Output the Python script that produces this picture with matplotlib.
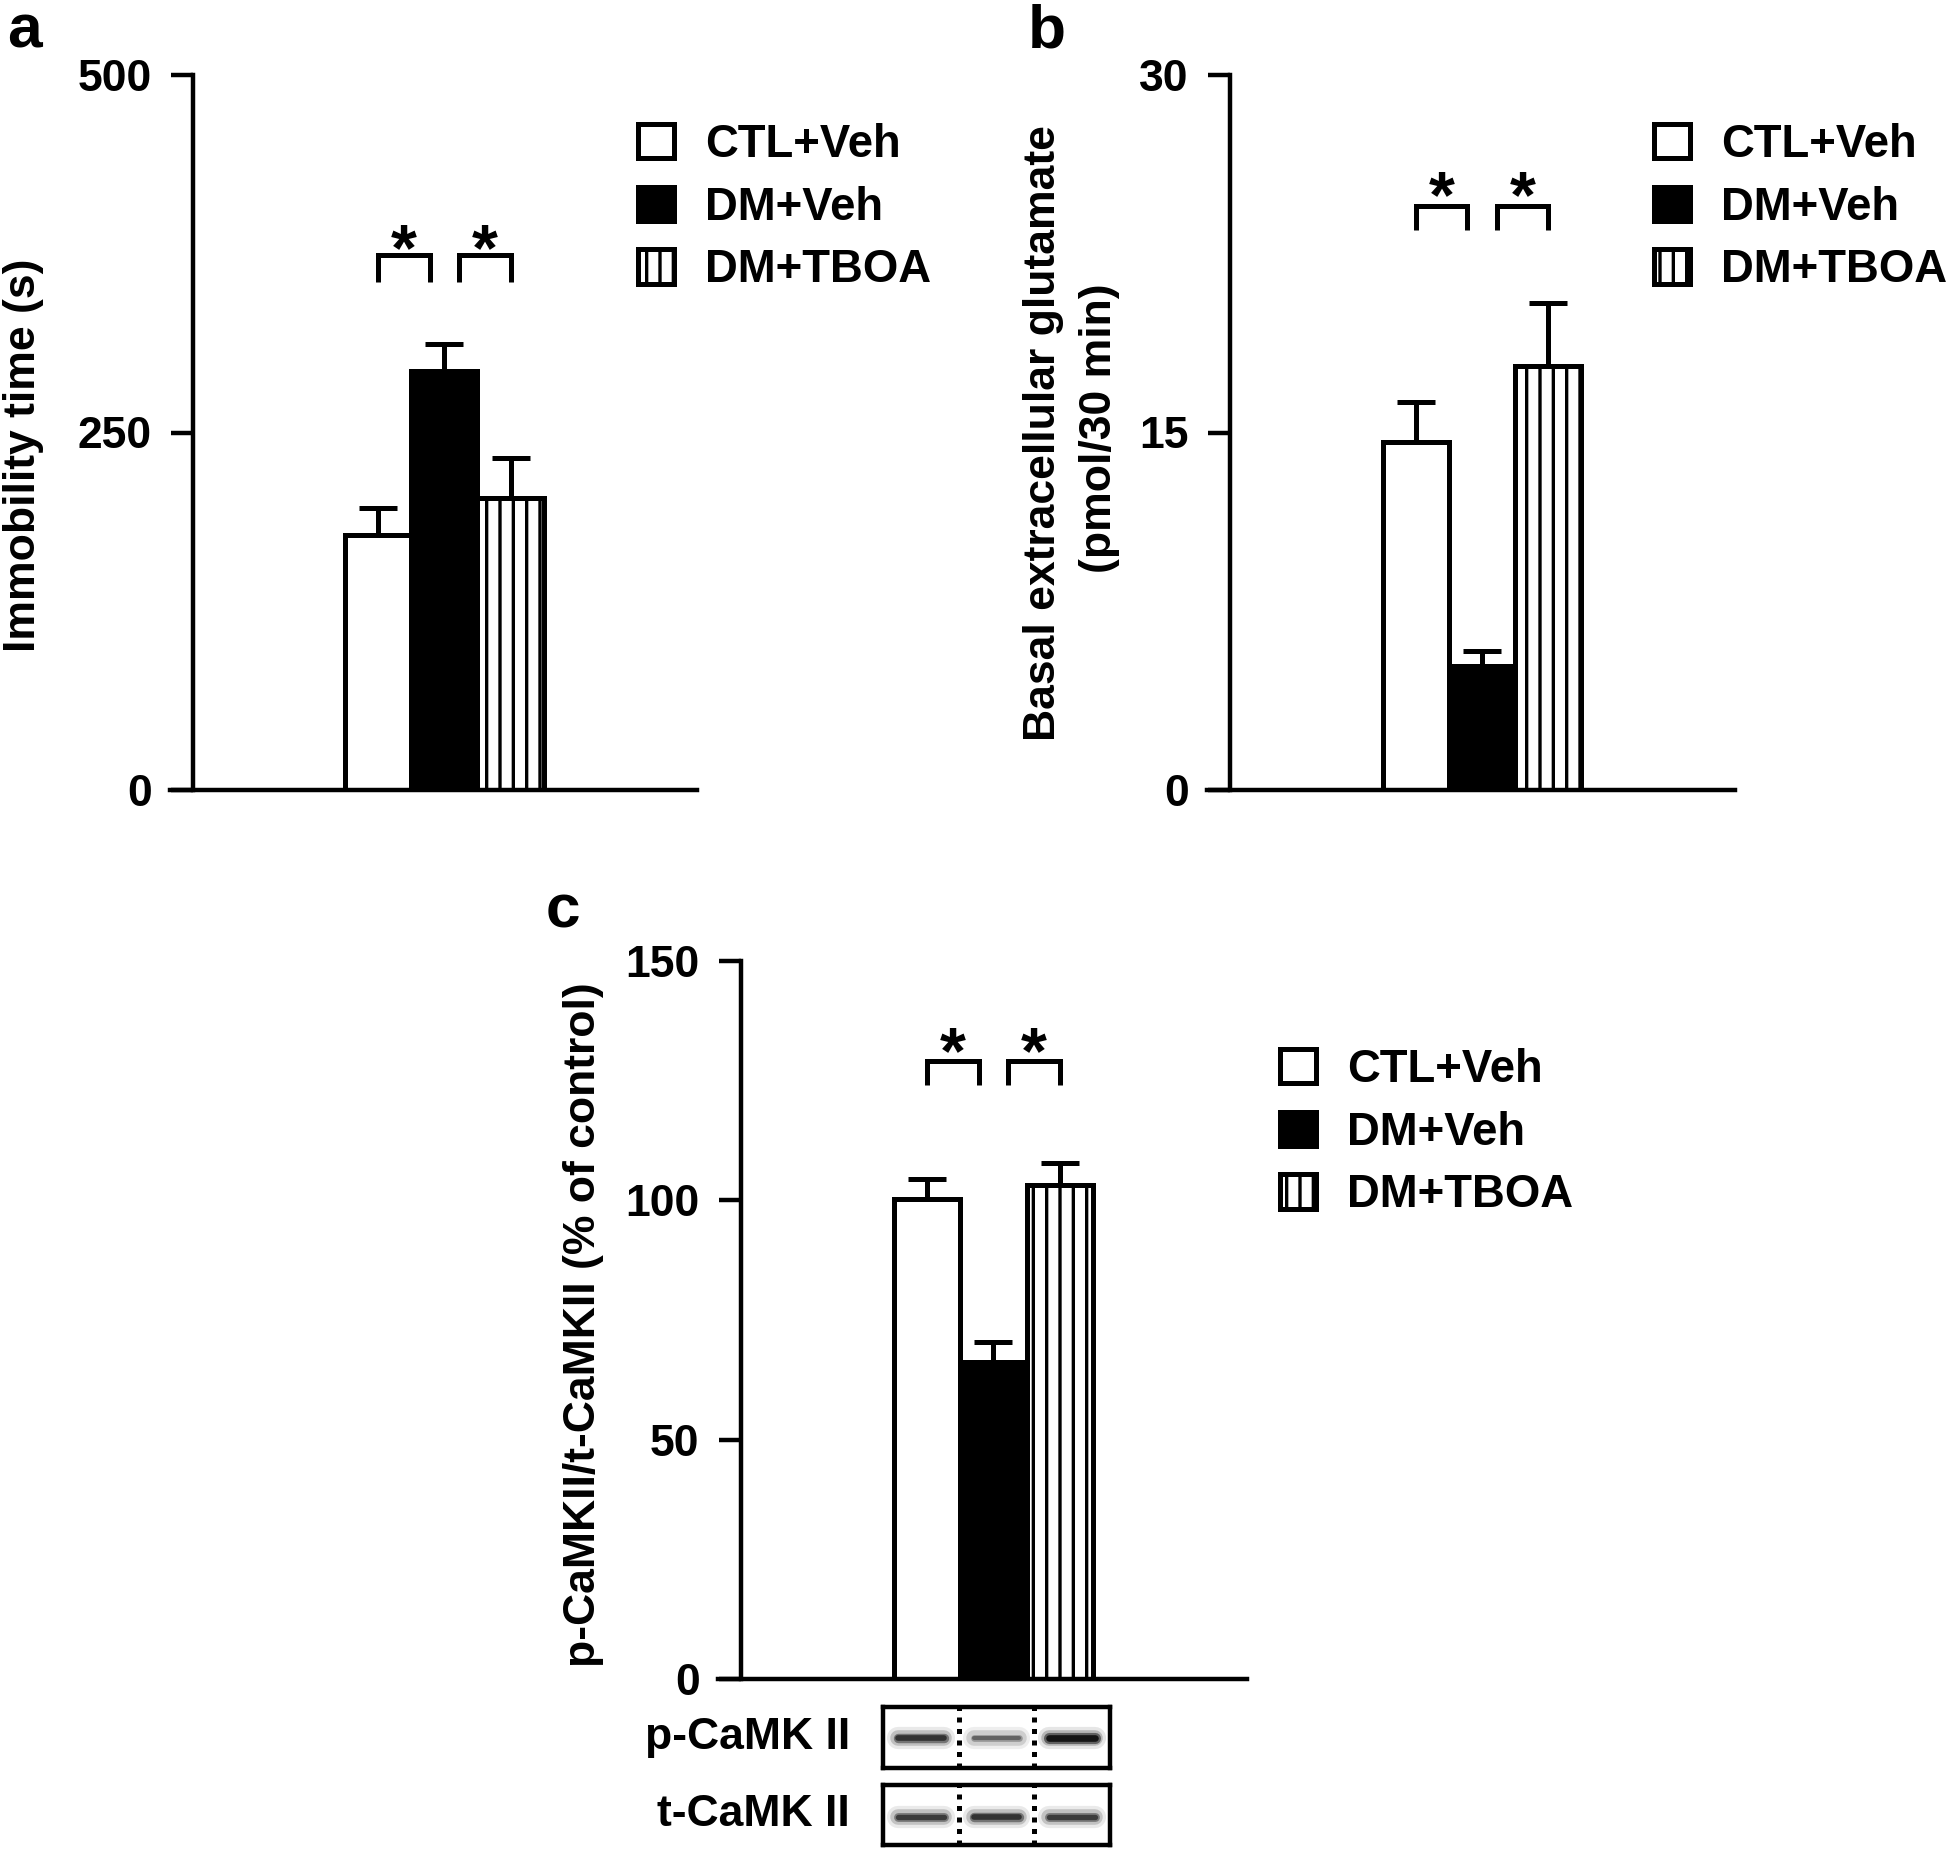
import numpy as np
import matplotlib
matplotlib.use("Agg")
import matplotlib.pyplot as plt

# ---- data ----
groups = ["CTL+Veh", "DM+Veh", "DM+TBOA"]

immobility_mean = [178, 293, 204]
immobility_sem = [19, 19, 28]

glutamate_mean = [14.6, 5.2, 17.8]
glutamate_sem = [1.7, 0.65, 2.65]

camk_mean = [100.2, 66.2, 103.3]
camk_sem = [4.2, 4.3, 4.6]

# blot band densities (relative), one per lane
p_camk_band = [0.85, 0.6, 1.0]
t_camk_band = [0.8, 0.85, 0.8]

# significance brackets: (top, leg bottom, star centre) in data units
sig_a = (374, 355, 390)
sig_b = (24.5, 23.5, 25.6)
sig_c = (129.2, 124.1, 134.4)

plt.rcParams['font.family'] = ['Liberation Sans', 'DejaVu Sans']
plt.rcParams['font.weight'] = 'bold'
plt.rcParams['hatch.linewidth'] = 3.0
plt.rcParams['hatch.color'] = 'black'

W, H = 1950, 1850
DPI = 80
fig = plt.figure(figsize=(W / DPI, H / DPI), dpi=DPI)

TICK_FS = 40
LABEL_FS = 40
LEG_FS = 41
STAR_FS = 60


def fbox(x0, y0, x1, y1):
    # pixel box (top-left origin) -> figure fraction rect
    return [x0 / W, 1 - y1 / H, (x1 - x0) / W, (y1 - y0) / H]


def bar_panel(rect, means, sems, ylim, yticks, sig, leg_xy):
    ax = fig.add_axes(rect)
    x = np.arange(len(means))
    fills = ['white', 'black', 'white']
    hatches = [None, None, '|']
    bars = ax.bar(x, means, width=1.0, color=fills, edgecolor='black',
                  linewidth=4.5, hatch=hatches, zorder=2)
    ax.errorbar(x, means, yerr=[np.zeros(len(sems)), sems], fmt='none',
                ecolor='black', elinewidth=4.5, capsize=17, capthick=4.5, zorder=3)
    ax.set_xlim(-3.15, 4.82)
    ax.set_ylim(*ylim)
    ax.spines['top'].set_visible(False)
    ax.spines['right'].set_visible(False)
    ax.spines['left'].set_position(('axes', 0.043))
    ax.spines['left'].set_linewidth(4)
    ax.spines['bottom'].set_linewidth(4)
    ax.set_xticks([])
    ax.set_yticks(yticks)
    ax.tick_params(axis='y', length=20, width=4, pad=17, labelsize=TICK_FS)

    top, leg, star = sig
    for a, b in [(0, 0.78), (1.22, 2.0)]:
        ax.plot([a, a, b, b], [leg, top, top, leg], color='black', lw=4.5,
                solid_joinstyle='miter', solid_capstyle='butt', clip_on=False)
        ax.annotate('*', xy=((a + b) / 2, star), xytext=(0, -0.56 * STAR_FS),
                    textcoords='offset points', ha='center', va='baseline',
                    fontsize=STAR_FS, annotation_clip=False)

    handles = [bars[i] for i in range(3)]
    ax.legend(handles, groups, loc='upper left', bbox_to_anchor=leg_xy,
              bbox_transform=fig.transFigure, frameon=False, fontsize=LEG_FS,
              handlelength=0.79, handleheight=0.79, handletextpad=0.68,
              labelspacing=0.41, borderpad=0, borderaxespad=0)
    return ax


ax_a = bar_panel(fbox(170, 75, 697, 790), immobility_mean, immobility_sem,
                 (0, 500), [0, 250, 500], sig_a, (638 / W, 1 - 123 / H))
ax_b = bar_panel(fbox(1207, 75, 1735, 790), glutamate_mean, glutamate_sem,
                 (0, 30), [0, 15, 30], sig_b, (1654 / W, 1 - 123 / H))
ax_c = bar_panel(fbox(718, 961, 1247, 1679), camk_mean, camk_sem,
                 (0, 150), [0, 50, 100, 150], sig_c, (1280 / W, 1 - 1048 / H))

# axis labels
fig.text(24 / W, 1 - 455 / H, 'Immobility time (s)', rotation=90,
         ha='center', va='center', fontsize=LABEL_FS)
fig.text(1043 / W, 1 - 433 / H, 'Basal extracellular glutamate', rotation=90,
         ha='center', va='center', fontsize=LABEL_FS)
fig.text(1099 / W, 1 - 428 / H, '(pmol/30 min)', rotation=90,
         ha='center', va='center', fontsize=LABEL_FS)
fig.text(583 / W, 1 - 1325 / H, 'p-CaMKII/t-CaMKII (% of control)', rotation=90,
         ha='center', va='center', fontsize=LABEL_FS)

# panel letters
fig.text(7 / W, 1 - 47 / H, 'a', fontsize=56, ha='left', va='baseline')
fig.text(1028 / W, 1 - 48 / H, 'b', fontsize=56, ha='left', va='baseline')
fig.text(546 / W, 1 - 928 / H, 'c', fontsize=56, ha='left', va='baseline')


# western blot strips
def blot(rect, dens, label, yc):
    ax = fig.add_axes(rect)
    ax.set_xlim(0, 3)
    ax.set_ylim(0, 1)
    ax.set_xticks([])
    ax.set_yticks([])
    for s in ax.spines.values():
        s.set_linewidth(4)
    for d in (1, 2):
        ax.plot([d, d], [0, 1], color='black', lw=4.5,
                linestyle=(0, (1, 1.3)), solid_capstyle='butt')
    for i, dv in enumerate(dens):
        lane = i + 0.5
        g = 1 - dv
        for lw, al in [(20, 0.10), (14, 0.22), (10 * dv, 0.5), (6 * dv, 0.9)]:
            ax.plot([lane - 0.3, lane + 0.3], [yc, yc],
                    color=str(min(g * 0.8 + 0.05, 0.9)),
                    lw=lw, alpha=al, solid_capstyle='round')
    ax.text(-0.145, 0.5, label, transform=ax.transAxes, ha='right', va='center',
            fontsize=LABEL_FS)
    return ax


blot(fbox(883, 1707, 1110, 1768), p_camk_band, 'p-CaMK II', 0.5)
blot(fbox(883, 1785, 1110, 1845), t_camk_band, 't-CaMK II', 0.47)

fig.savefig('out.png', dpi=DPI)
